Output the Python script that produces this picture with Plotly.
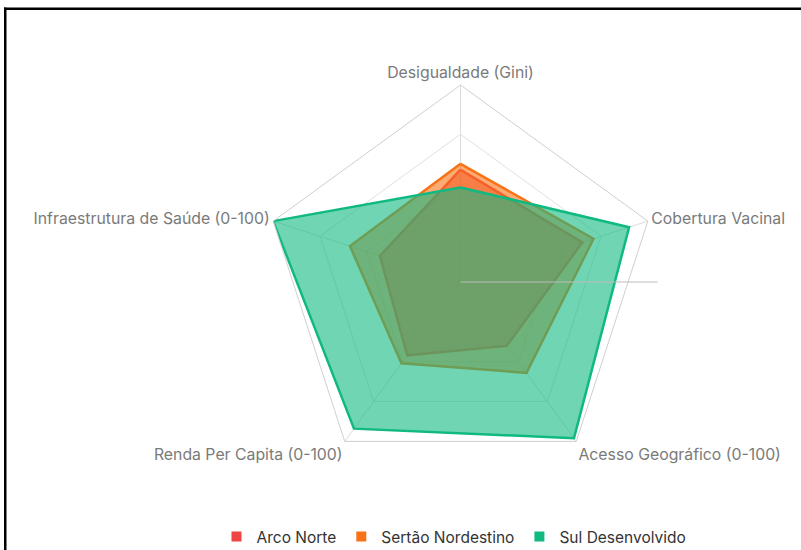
import plotly.graph_objects as go

W, H = 801, 550

categories = ["Desigualdade (Gini)", "Cobertura Vacinal", "Acesso Geográfico (0-100)",
              "Renda Per Capita (0-100)", "Infraestrutura de Saúde (0-100)"]
series_names = ["Arco Norte", "Sertão Nordestino", "Sul Desenvolvido"]
arco_norte = [57, 65, 40, 46, 43]
sertao = [60, 71, 57, 51, 59]
sul = [48, 90, 98, 92, 100]
colors = ["#ef4444", "#f97316", "#10b981"]
fills = ["rgba(239,68,68,0.6)", "rgba(249,115,22,0.6)", "rgba(16,185,129,0.6)"]

fig = go.Figure()
for name, vals, c, f in zip(series_names, [arco_norte, sertao, sul], colors, fills):
    fig.add_trace(go.Scatterpolar(
        r=vals + vals[:1], theta=categories + categories[:1],
        name=name, mode="lines", fill="toself", fillcolor=f,
        line=dict(color=c, width=2.5), showlegend=False, legendgroup=name,
    ))
# legend proxies (square markers)
for name, c in zip(series_names, colors):
    fig.add_trace(go.Scatterpolar(
        r=[None], theta=[categories[0]], name=name, mode="markers",
        marker=dict(symbol="square", size=10, color=c), legendgroup=name,
        hoverinfo="skip",
    ))
# overlay subplot carrying the horizontal radial axis line
fig.add_trace(go.Scatterpolar(r=[None], theta=[0], subplot="polar2", mode="lines",
                              showlegend=False, hoverinfo="skip"))

cx, cy, R = 460.5, 282, 197
dom = dict(x=[(cx - R) / W, (cx + R) / W], y=[(H - cy - R) / H, (H - cy + R) / H])
fig.update_layout(
    width=W, height=H,
    margin=dict(l=0, r=0, t=0, b=0, autoexpand=False),
    paper_bgcolor="white", plot_bgcolor="white",
    font=dict(family="Inter, sans-serif", size=13, color="#777"),
    polar=dict(
        domain=dom,
        gridshape="linear",
        bgcolor="white",
        radialaxis=dict(range=[0, 100], dtick=25, showticklabels=False, ticks="",
                        showline=False, gridcolor="#e0e0e0"),
        angularaxis=dict(rotation=90, direction="clockwise", gridcolor="#dcdcdc",
                         linecolor="#cfcfcf", linewidth=1, ticks="",
                         tickfont=dict(size=15.8, color="#7a7a7a")),
    ),
    polar2=dict(
        domain=dom,
        bgcolor="rgba(0,0,0,0)",
        radialaxis=dict(range=[0, 100], showticklabels=False, ticks="", showgrid=False,
                        showline=True, linecolor="#bdbdbd", linewidth=1, angle=0),
        angularaxis=dict(visible=False, showgrid=False, showline=False),
    ),
    legend=dict(orientation="h", x=454 / W, xanchor="center", y=(H - 537) / H, yanchor="middle",
                font=dict(size=15.5, color="#333"), itemwidth=30),
    showlegend=True,
    shapes=[
        dict(type="rect", xref="paper", yref="paper", x0=4 / W, x1=1, y0=1 - 10 / H, y1=1 - 7.5 / H,
             fillcolor="black", line=dict(width=0)),
        dict(type="rect", xref="paper", yref="paper", x0=4 / W, x1=6.5 / W, y0=0, y1=1 - 7.5 / H,
             fillcolor="black", line=dict(width=0)),
    ],
)

fig.write_html("out.html", config={"displayModeBar": False},
               post_script="document.body.style.margin='0';")
